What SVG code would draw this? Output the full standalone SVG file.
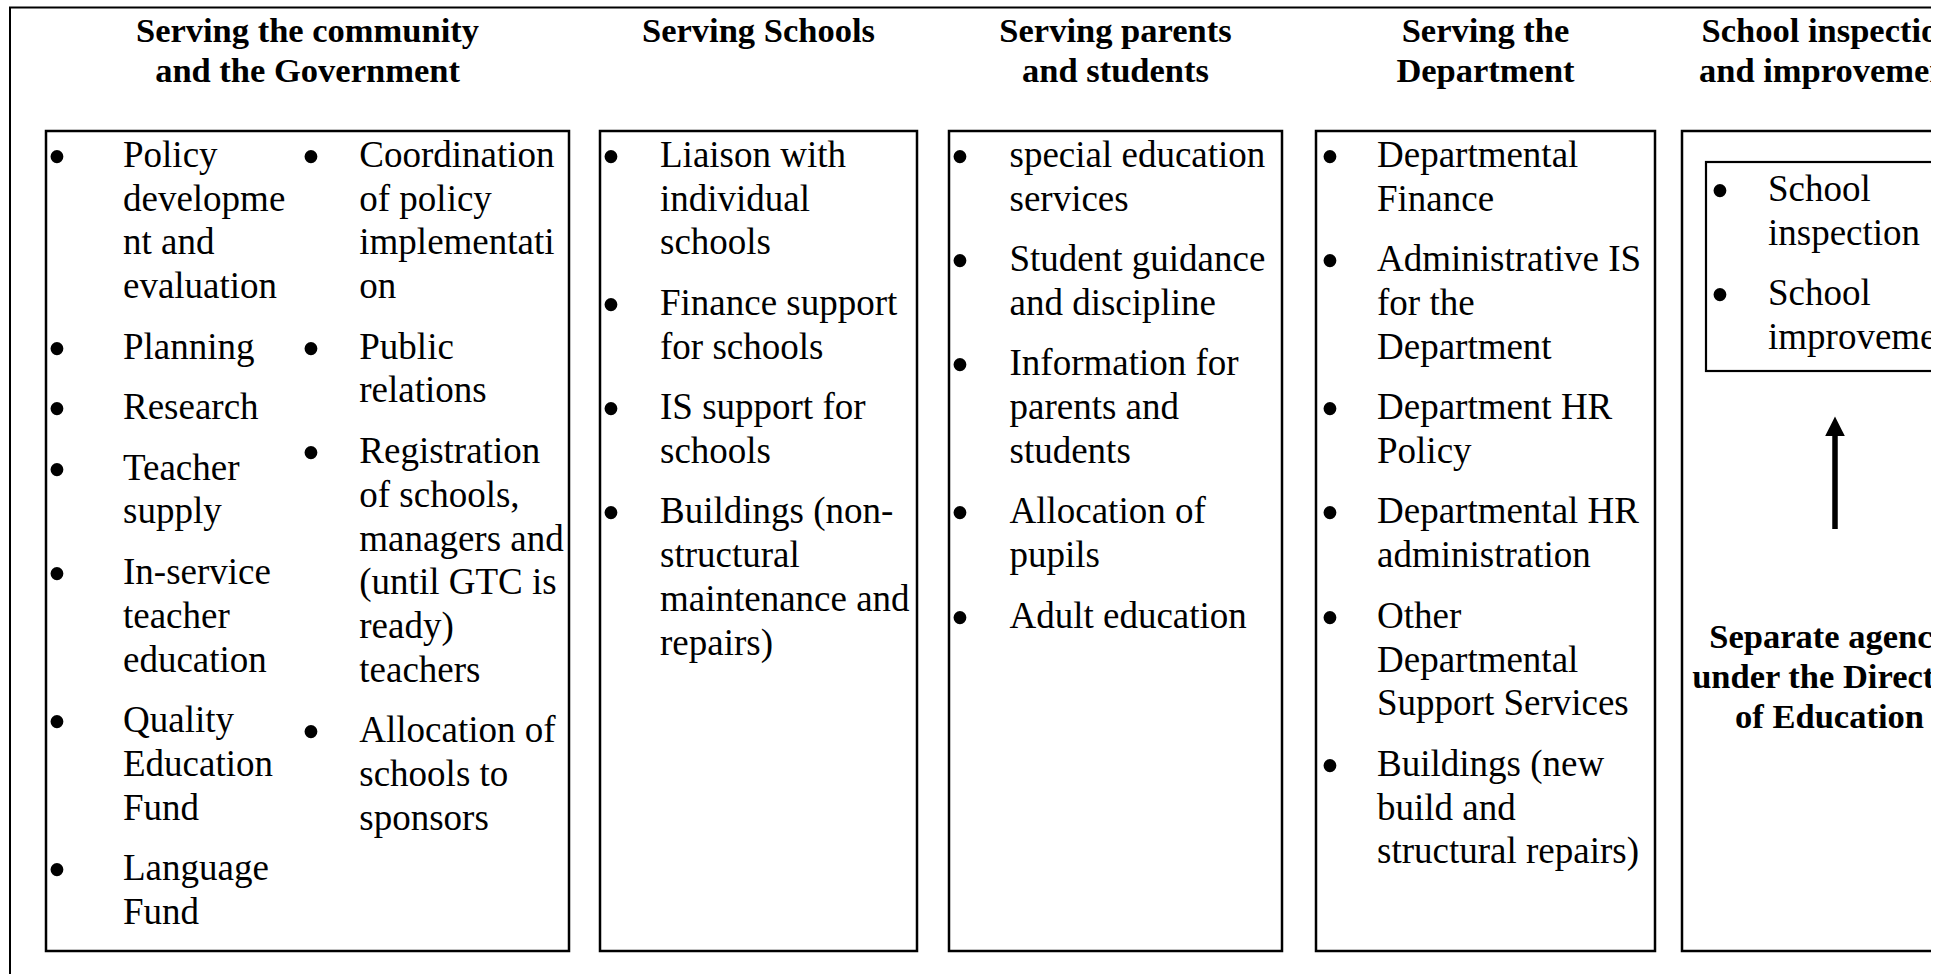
<svg xmlns="http://www.w3.org/2000/svg" width="1952" height="974" viewBox="0 0 1952 974">
<style>
.frame{fill:none;stroke:#000;stroke-width:2}
.box{fill:none;stroke:#000;stroke-width:2.5}
.inner{fill:none;stroke:#000;stroke-width:2.2}
text{font-family:"Liberation Serif","Times New Roman",serif;fill:#000}
.t{font-size:37px}
.bu{font-size:54px;text-anchor:middle}
.h{font-size:34.5px;font-weight:bold;text-anchor:middle}
</style>
<defs>
<clipPath id="clip"><rect x="0" y="0" width="1931" height="974"/></clipPath>
<marker id="ah" markerWidth="3.6" markerHeight="3.6" refX="0.4" refY="1.8" orient="auto" markerUnits="strokeWidth">
<path d="M0,0 L3.6,1.8 L0,3.6 Z" fill="#000"/>
</marker>
</defs>
<rect width="1952" height="974" fill="#fff"/>
<g clip-path="url(#clip)">
<rect id="outer-frame" class="frame" x="10" y="7.5" width="2100" height="1100"/>

<g id="community">
<text class="h"><tspan x="307.5" y="41.7">Serving the community</tspan><tspan x="307.5" y="81.7">and the Government</tspan></text>
<rect class="box" x="46" y="131" width="523" height="820"/>
<g transform="translate(0,8)">
<text class="bu"><tspan x="57" y="166.7">•</tspan><tspan x="57" y="358.6">•</tspan><tspan x="57" y="419.1">•</tspan><tspan x="57" y="479.6">•</tspan><tspan x="57" y="583.9">•</tspan><tspan x="57" y="732">•</tspan><tspan x="57" y="880.1">•</tspan></text>
<text class="bu"><tspan x="311" y="166.7">•</tspan><tspan x="311" y="358.6">•</tspan><tspan x="311" y="462.9">•</tspan><tspan x="311" y="742.4">•</tspan></text>
</g>
<text class="t"><tspan x="123" y="166.7">Policy</tspan><tspan x="123" y="210.5">developme</tspan><tspan x="123" y="254.3">nt and</tspan><tspan x="123" y="298.1">evaluation</tspan><tspan x="123" y="358.6">Planning</tspan><tspan x="123" y="419.1">Research</tspan><tspan x="123" y="479.6">Teacher</tspan><tspan x="123" y="523.4">supply</tspan><tspan x="123" y="583.9">In-service</tspan><tspan x="123" y="627.7">teacher</tspan><tspan x="123" y="671.5">education</tspan><tspan x="123" y="732">Quality</tspan><tspan x="123" y="775.8">Education</tspan><tspan x="123" y="819.6">Fund</tspan><tspan x="123" y="880.1">Language</tspan><tspan x="123" y="923.9">Fund</tspan></text>
<text class="t"><tspan x="359.3" y="166.7">Coordination</tspan><tspan x="359.3" y="210.5">of policy</tspan><tspan x="359.3" y="254.3">implementati</tspan><tspan x="359.3" y="298.1">on</tspan><tspan x="359.3" y="358.6">Public</tspan><tspan x="359.3" y="402.4">relations</tspan><tspan x="359.3" y="462.9">Registration</tspan><tspan x="359.3" y="506.7">of schools,</tspan><tspan x="359.3" y="550.5">managers and</tspan><tspan x="359.3" y="594.3">(until GTC is</tspan><tspan x="359.3" y="638.1">ready)</tspan><tspan x="359.3" y="681.9">teachers</tspan><tspan x="359.3" y="742.4">Allocation of</tspan><tspan x="359.3" y="786.2">schools to</tspan><tspan x="359.3" y="830">sponsors</tspan></text>
</g>

<g id="schools">
<text class="h"><tspan x="758.5" y="41.7">Serving Schools</tspan></text>
<rect class="box" x="600" y="131" width="317" height="820"/>
<text class="bu" transform="translate(0,8)"><tspan x="611" y="166.7">•</tspan><tspan x="611" y="314.8">•</tspan><tspan x="611" y="419.1">•</tspan><tspan x="611" y="523.4">•</tspan></text>
<text class="t"><tspan x="660" y="166.7">Liaison with</tspan><tspan x="660" y="210.5">individual</tspan><tspan x="660" y="254.3">schools</tspan><tspan x="660" y="314.8">Finance support</tspan><tspan x="660" y="358.6">for schools</tspan><tspan x="660" y="419.1">IS support for</tspan><tspan x="660" y="462.9">schools</tspan><tspan x="660" y="523.4">Buildings (non-</tspan><tspan x="660" y="567.2">structural</tspan><tspan x="660" y="611">maintenance and</tspan><tspan x="660" y="654.8">repairs)</tspan></text>
</g>

<g id="parents">
<text class="h"><tspan x="1115.5" y="41.7">Serving parents</tspan><tspan x="1115.5" y="81.7">and students</tspan></text>
<rect class="box" x="949" y="131" width="333" height="820"/>
<text class="bu" transform="translate(0,8)"><tspan x="960" y="166.7">•</tspan><tspan x="960" y="271">•</tspan><tspan x="960" y="375.3">•</tspan><tspan x="960" y="523.4">•</tspan><tspan x="960" y="627.7">•</tspan></text>
<text class="t"><tspan x="1009.5" y="166.7">special education</tspan><tspan x="1009.5" y="210.5">services</tspan><tspan x="1009.5" y="271">Student guidance</tspan><tspan x="1009.5" y="314.8">and discipline</tspan><tspan x="1009.5" y="375.3">Information for</tspan><tspan x="1009.5" y="419.1">parents and</tspan><tspan x="1009.5" y="462.9">students</tspan><tspan x="1009.5" y="523.4">Allocation of</tspan><tspan x="1009.5" y="567.2">pupils</tspan><tspan x="1009.5" y="627.7">Adult education</tspan></text>
</g>

<g id="department">
<text class="h"><tspan x="1485.5" y="41.7">Serving the</tspan><tspan x="1485.5" y="81.7">Department</tspan></text>
<rect class="box" x="1316" y="131" width="339" height="820"/>
<text class="bu" transform="translate(0,8)"><tspan x="1330" y="166.7">•</tspan><tspan x="1330" y="271">•</tspan><tspan x="1330" y="419.1">•</tspan><tspan x="1330" y="523.4">•</tspan><tspan x="1330" y="627.7">•</tspan><tspan x="1330" y="775.8">•</tspan></text>
<text class="t"><tspan x="1377" y="166.7">Departmental</tspan><tspan x="1377" y="210.5">Finance</tspan><tspan x="1377" y="271">Administrative IS</tspan><tspan x="1377" y="314.8">for the</tspan><tspan x="1377" y="358.6">Department</tspan><tspan x="1377" y="419.1">Department HR</tspan><tspan x="1377" y="462.9">Policy</tspan><tspan x="1377" y="523.4">Departmental HR</tspan><tspan x="1377" y="567.2">administration</tspan><tspan x="1377" y="627.7">Other</tspan><tspan x="1377" y="671.5">Departmental</tspan><tspan x="1377" y="715.3">Support Services</tspan><tspan x="1377" y="775.8">Buildings (new</tspan><tspan x="1377" y="819.6">build and</tspan><tspan x="1377" y="863.4">structural repairs)</tspan></text>
</g>

<g id="inspection">
<text class="h"><tspan x="1829.5" y="41.7">School inspection</tspan><tspan x="1829.5" y="81.7">and improvement</tspan></text>
<rect class="box" x="1682" y="131" width="295" height="820"/>
<text class="h"><tspan x="1829.5" y="648">Separate agency</tspan><tspan x="1829.5" y="688">under the Director</tspan><tspan x="1829.5" y="728">of Education</tspan></text>
</g>

<g id="inspection-list">
<rect class="inner" x="1706" y="162" width="247" height="209"/>
<text class="bu" transform="translate(0,8)"><tspan x="1720" y="201">•</tspan><tspan x="1720" y="305.3">•</tspan></text>
<text class="t"><tspan x="1768" y="201">School</tspan><tspan x="1768" y="244.8">inspection</tspan><tspan x="1768" y="305.3">School</tspan><tspan x="1768" y="349.1">improvement</tspan></text>
</g>

<g id="connectors">
<line x1="1835" y1="529" x2="1835" y2="434" stroke="#000" stroke-width="5.5" marker-end="url(#ah)"/>
</g>
</g>
</svg>
